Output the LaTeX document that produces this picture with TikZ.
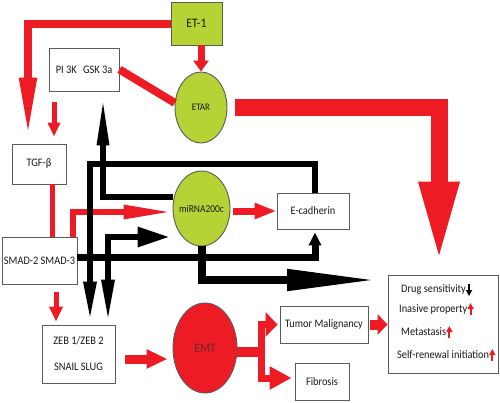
\documentclass[tikz,border=0pt]{standalone}
\usepackage{fontspec}
\setmainfont[FakeStretch=0.9]{Carlito}
\usetikzlibrary{shapes.geometric,arrows.meta}
\definecolor{myred}{RGB}{237,28,36}
\definecolor{mygreen}{RGB}{181,211,52}
\definecolor{bord}{RGB}{90,90,90}
\definecolor{emttext}{RGB}{110,40,45}
\begin{document}
\begin{tikzpicture}[x=1pt,y=-1pt,
  txt/.style={font=\fontsize{11.5}{13}\selectfont, text=black!90},
  box/.style={draw=bord, line width=0.9pt, fill=white, inner sep=0pt, txt},
  ell/.style={ellipse, draw=bord, line width=0.9pt, inner sep=0pt},
  rl/.style={draw=myred, line width=#1pt},
  bl/.style={draw=black, line width=#1pt},
  marker/.style={line width=2pt, -{Triangle[length=6pt,width=6pt]}}
]
\useasboundingbox (0,0) rectangle (500,402);

% nodes
\node[box, fill=mygreen, minimum width=51pt, minimum height=43pt, font=\fontsize{13}{15}\selectfont] (et1) at (196.5,23.5) {ET-1};
\node[box, minimum width=70pt, minimum height=43pt] (pi3k) at (84,69.5) {PI 3K\hspace{4pt} GSK 3a};
\node[ell, fill=mygreen, minimum width=52pt, minimum height=71pt,
      label={[txt, font=\fontsize{10}{12}\selectfont]center:ETAR}] (etar) at (201,107.5) {};
\node[box, minimum width=54pt, minimum height=40pt] (tgf) at (39,164) {TGF-β};
\node[box, minimum width=75pt, minimum height=47pt] (smad) at (39.5,260.5) {SMAD-2 SMAD-3};
\node[ell, fill=mygreen, minimum width=57pt, minimum height=75pt,
      label={[txt, font=\fontsize{10.5}{12}\selectfont]center:miRNA200c}] (mirna) at (201.5,208.5) {};
\node[box, minimum width=72pt, minimum height=36pt] (ecad) at (313,211) {E-cadherin};
\node[box, minimum width=73pt, minimum height=58pt, align=center] (zeb) at (78.5,354) {ZEB 1/ZEB 2\\[13pt]SNAIL SLUG};
\node[ell, fill=myred, minimum width=64pt, minimum height=90pt,
      label={[font=\fontsize{13}{15}\selectfont, text=emttext]center:EMT}] (emt) at (205,348) {};
\node[box, minimum width=88pt, minimum height=37pt] (tumor) at (324,324.5) {Tumor Malignancy};
\node[box, minimum width=54pt, minimum height=37pt] (fib) at (322,381.5) {Fibrosis};
\node[box, minimum width=110pt, minimum height=98pt] (drug) at (443,324) {};

\node[txt, anchor=west, inner sep=0pt] (d1) at (401,290) {Drug sensitivity};
\node[txt, anchor=west, inner sep=0pt] (d2) at (399,309) {Inasive property};
\node[txt, anchor=west, inner sep=0pt] (d3) at (401,332) {Metastasis};
\node[txt, anchor=west, inner sep=0pt] (d4) at (397,355) {Self-renewal initiation};
\draw[marker, black] ([xshift=3pt,yshift=6pt]d1.east) -- ([xshift=3pt,yshift=-6pt]d1.east);
\draw[marker, myred] ([xshift=3pt,yshift=-6pt]d2.east) -- ([xshift=3pt,yshift=6pt]d2.east);
\draw[marker, myred] ([xshift=3pt,yshift=-6pt]d3.east) -- ([xshift=3pt,yshift=6pt]d3.east);
\draw[marker, myred] ([xshift=3pt,yshift=-6pt]d4.east) -- ([xshift=3pt,yshift=6pt]d4.east);

% red connectors
\draw[rl=8, -{Triangle[length=60pt,width=16pt]}, shorten >=6pt] (et1.west) -| ([xshift=-11pt]tgf.north);
\draw[rl=7, -{Triangle[length=11pt,width=15pt]}] (et1.south -| etar.north) -- (etar.north);
\draw[rl=8] (pi3k.east) -- (etar.170);
\draw[rl=17, -{Triangle[length=83pt,width=36pt]}, shorten <=8pt, shorten >=10pt] (etar.east) -| ([xshift=-4pt]drug.north);
\draw[rl=5, -{Triangle[length=14pt,width=12pt]}, shorten <=11pt, shorten >=7pt] ([xshift=-30pt]pi3k.south) -- ([xshift=-30pt]pi3k.south |- tgf.north);
\draw[rl=5] ([xshift=13pt]tgf.south) -- ([xshift=13pt]tgf.south |- smad.north);
\draw[rl=6, -{Triangle[length=49pt,width=13pt]}] ([xshift=33.5pt]smad.north) |- ([yshift=-3.5pt]mirna.west);
\draw[rl=7, -{Triangle[length=22pt,width=15pt]}, shorten <=3pt] (mirna.east |- ecad.west) -- (ecad.west);
\draw[rl=5, -{Triangle[length=15pt,width=13pt]}, shorten <=8pt, shorten >=3pt] ([xshift=16.5pt]smad.south) -- ([xshift=16.5pt]smad.south |- zeb.north);
\draw[rl=9, -{Triangle[length=21pt,width=18pt]}, shorten <=10pt, shorten >=5pt] ([yshift=-5pt]zeb.east) -- ([yshift=-5pt]zeb.east -| emt.west);
\coordinate (br) at (261.5,352);
\draw[rl=10] ([yshift=-4pt]emt.east) -- (br);
\draw[rl=7, line cap=rect, -{Triangle[length=12pt,width=24pt]}, shorten >=2pt] (br) |- (tumor.west);
\draw[rl=7, line cap=rect, -{Triangle[length=22pt,width=22pt]}, shorten >=3pt] (br) |- ([yshift=3.5pt]fib.west);
\draw[rl=10, -{Triangle[length=10pt,width=20pt]}, shorten <=2pt] (tumor.east) -- (tumor.east -| drug.west);

% black connectors
\coordinate (lp1) at (90,163.5);
\draw[bl=6, -{Triangle[length=40pt,width=12pt]}, shorten >=3pt] ([xshift=2pt]ecad.north) |- (lp1) -- (lp1 |- zeb.north);
\draw[bl=6, -{Triangle[length=50pt,width=11pt]}, shorten >=4pt] ([yshift=11.5pt]mirna.west) -| ([xshift=19pt]pi3k.south);
\draw[bl=6, {Triangle[length=43pt,width=12pt]}-{Triangle[length=32pt,width=19pt]}, shorten <=2pt, shorten >=3pt] ([xshift=29.5pt]zeb.north) |- ([yshift=-28.5pt]mirna.west);
\draw[bl=7, -{Triangle[length=13pt,width=12pt]}, shorten >=3pt] ([yshift=3.5pt]smad.east) -| ([xshift=2pt]ecad.south);
\coordinate (bt) at (377,280);
\draw[bl=8, -{Triangle[length=90pt,width=20pt]}] (mirna.south) |- (bt);
\end{tikzpicture}
\end{document}
